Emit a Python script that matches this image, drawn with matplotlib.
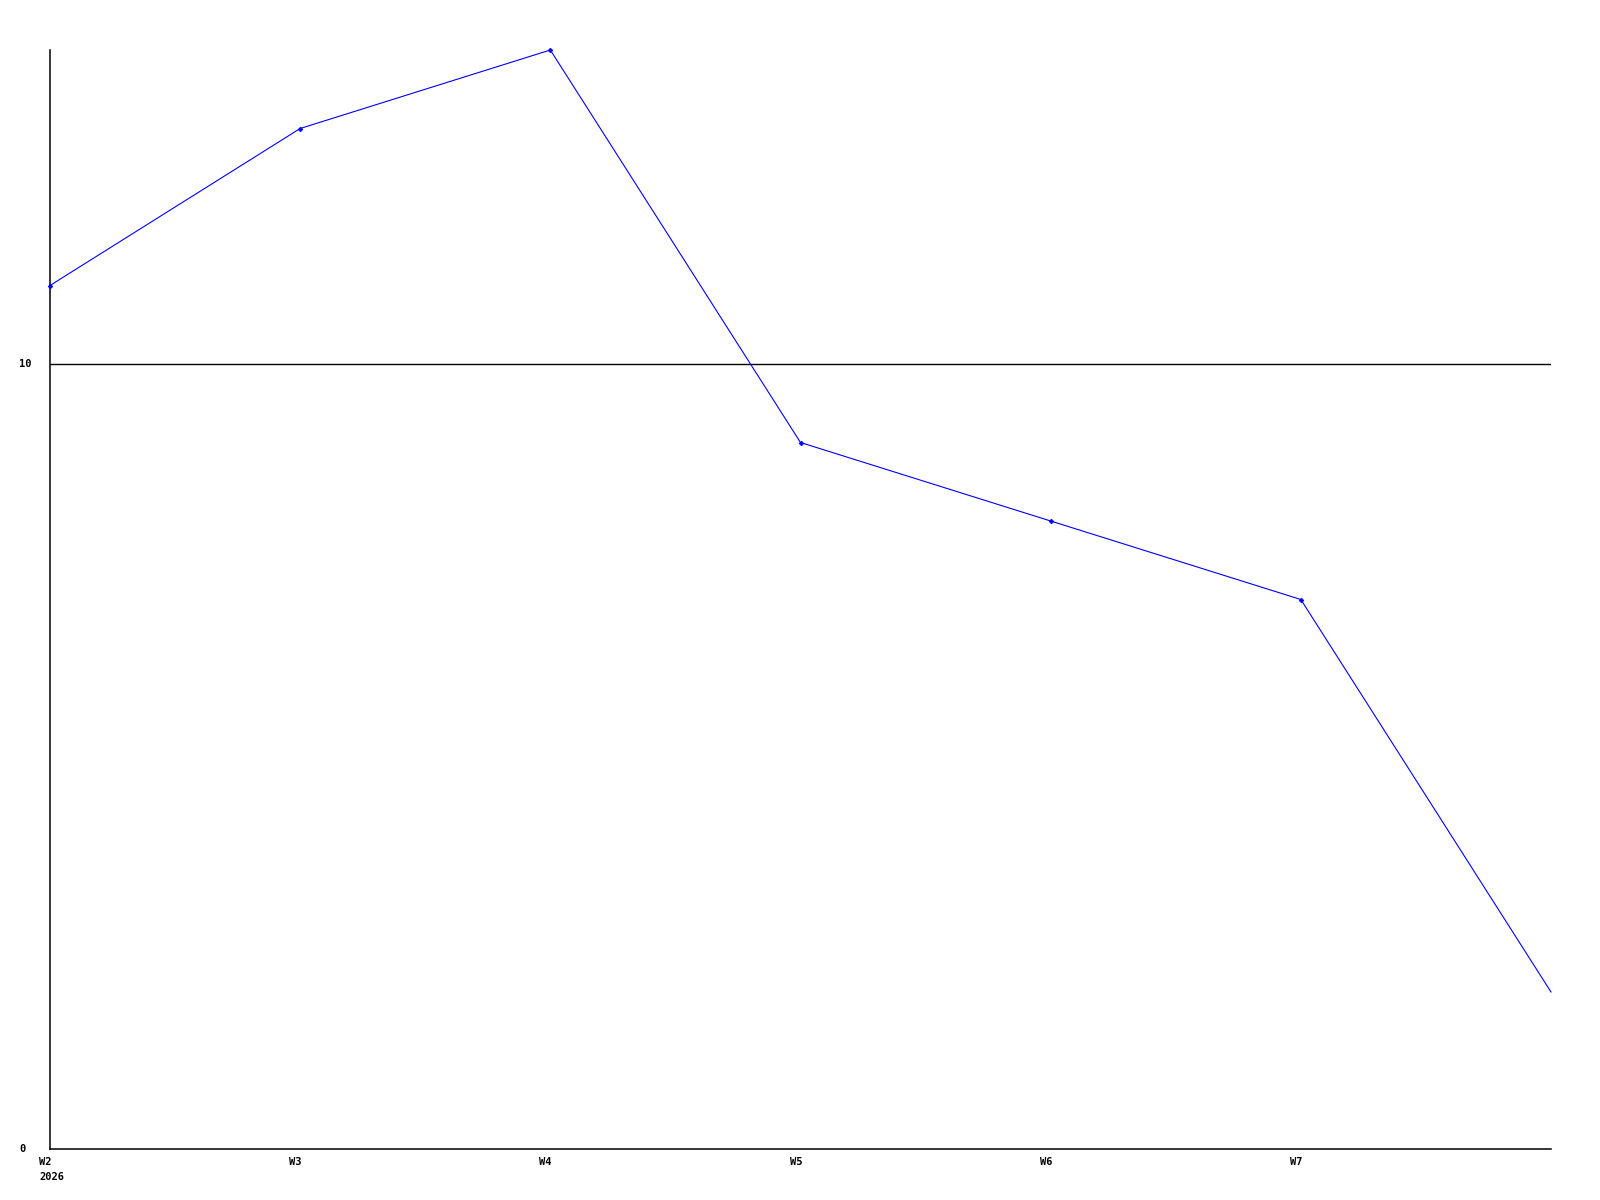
import matplotlib
matplotlib.use("Agg")
import matplotlib.pyplot as plt
import matplotlib.transforms as mtransforms

# data
weeks = ["W2", "W3", "W4", "W5", "W6", "W7", "W8"]
values = [11, 13, 14, 9, 8, 7, 2]
y_ticks = [0, 10]
year_label = "2026"

W, H = 1600, 1200
fig = plt.figure(figsize=(W / 100, H / 100), dpi=100)
left, right, top, bottom = 50, 1551, 50, 1149
ax = fig.add_axes([left / W, 1 - bottom / H, (right - left) / W, (bottom - top) / H])

xs = list(range(len(weeks)))
# the last point sits on the right edge and carries no marker
ax.plot(xs, values, color="#0000ff", linewidth=0.8, marker="D", markersize=2.4,
        markeredgewidth=0.5, markevery=list(range(len(xs) - 1)),
        clip_on=False, zorder=3)

ax.set_xlim(0, len(weeks) - 1)
ax.set_ylim(0, 14)

for s in ("top", "right"):
    ax.spines[s].set_visible(False)
for s in ("left", "bottom"):
    ax.spines[s].set_linewidth(1.1)
    ax.spines[s].set_color("black")

# horizontal reference line at each y tick above zero
for yt in y_ticks[1:]:
    ax.axhline(yt, color="black", linewidth=1.0, zorder=2)

ax.set_xticks([])
ax.set_yticks([])

font = dict(family="DejaVu Sans Mono", fontweight="bold", fontsize=7.5)

# y labels
ylab_tr = mtransforms.blended_transform_factory(fig.transFigure, ax.transData)
for yt in y_ticks:
    ax.text(19 / W, yt, str(yt), transform=ylab_tr, ha="left", va="center",
            **font)

# x labels (drawn slightly left of the tick position)
off = mtransforms.ScaledTranslation(-11 / 100, 0, fig.dpi_scale_trans)
xlab_tr = mtransforms.blended_transform_factory(ax.transData, fig.transFigure) + off
for i, w in enumerate(weeks[:-1]):
    ax.text(i, 1 - 1162 / H, w, transform=xlab_tr, ha="left", va="center",
            **font)
ax.text(0, 1 - 1177 / H, year_label, transform=xlab_tr, ha="left", va="center",
        **font)

fig.savefig("out.png", dpi=100)
